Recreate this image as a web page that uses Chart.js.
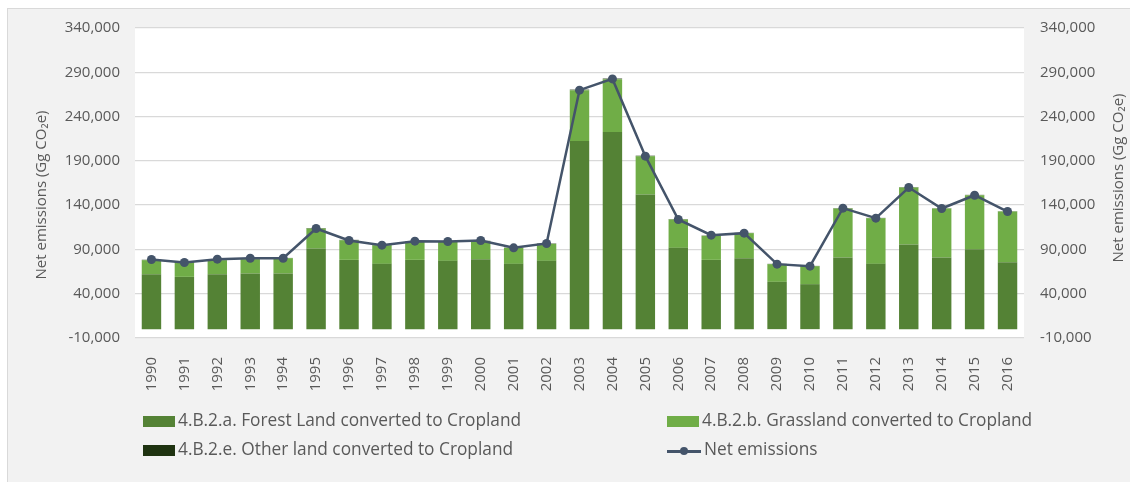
<!DOCTYPE html>
<html>
<head>
<meta charset="utf-8">
<script src="https://cdn.jsdelivr.net/npm/chart.js@4.4.1/dist/chart.umd.min.js"></script>
<style>
  body { margin: 0; background: #ffffff; }
  #wrap { position: absolute; left: 0; top: 0; width: 1130px; height: 482px; }
  #frame { position: absolute; left: 7px; top: 8px; right: 0; bottom: 0; background: #f2f2f2; border-left: 1px solid #d9d9d9; border-top: 1px solid #d9d9d9; }
  #packChart { position: absolute; left: 0; top: 0; }
  .legend-item { position: absolute; font-family: "Open Sans", sans-serif; font-size: 17.3px; color: #595959; white-space: nowrap; line-height: 20px; }
  .legend-box { display: inline-block; width: 32px; height: 11px; margin-right: 3px; vertical-align: -1px; }
  .legend-line { display: inline-block; position: relative; width: 34px; height: 11px; margin-right: 3px; vertical-align: -1px; }
</style>
</head>
<body>
<div id="wrap">
  <div id="frame"></div>
  <canvas id="packChart" width="1130" height="482"></canvas>
  <div id="legend"></div>
</div>
<script>
const years = ['1990','1991','1992','1993','1994','1995','1996','1997','1998','1999','2000','2001','2002','2003','2004','2005','2006','2007','2008','2009','2010','2011','2012','2013','2014','2015','2016'];
const forestLand = [62000, 59000, 62000, 62800, 62800, 91000, 78200, 73700, 78200, 77100, 79000, 73700, 77100, 212500, 222700, 152000, 91800, 78200, 80100, 53400, 50800, 80900, 73700, 95600, 80900, 90300, 75600];
const grassLand = [15900, 17000, 15900, 16200, 17300, 22600, 22200, 21100, 20300, 21400, 20300, 18100, 19200, 57300, 59500, 43300, 32000, 27100, 28300, 20000, 20300, 55300, 51600, 64300, 55300, 60900, 57200];
const otherLand = [400, 300, 400, 400, 300, 500, 400, 300, 400, 400, 400, 300, 400, 600, 700, 500, 400, 300, 300, 300, 300, 400, 300, 400, 300, 400, 300];
const netEmissions = [78600, 75300, 79000, 80100, 80100, 113600, 100100, 94800, 99300, 99000, 100100, 91800, 96700, 269800, 282500, 195300, 123800, 106100, 108400, 73400, 71100, 136600, 125300, 159900, 136200, 151200, 132800];
const axisMin = -10000;
const axisMax = 340000;
const axisStep = 50000;
const axisTitle = 'Net emissions (Gg CO\u2082e)';

const textColor = '#595959';
const font = '"Open Sans", sans-serif';

// white plot area + axis titles (right one reads bottom-to-top like the left)
const plotBg = {
    id: 'plotBg',
    beforeDraw(chart) {
        const a = chart.chartArea;
        const ctx = chart.ctx;
        ctx.save();
        ctx.fillStyle = '#ffffff';
        ctx.fillRect(a.left, a.top, a.right - a.left, a.bottom - a.top);
        ctx.restore();
    },
    afterDraw(chart) {
        const ctx = chart.ctx;
        ctx.save();
        ctx.fillStyle = textColor;
        ctx.font = '15px ' + font;
        ctx.textAlign = 'center';
        ctx.textBaseline = 'middle';
        [[42, 195], [1119, 178]].forEach(p => {
            ctx.save();
            ctx.translate(p[0], p[1]);
            ctx.rotate(-Math.PI / 2);
            ctx.fillText(axisTitle, 0, 0);
            ctx.restore();
        });
        ctx.restore();
    }
};

const yTicks = {
    stepSize: axisStep,
    color: textColor,
    font: { family: font, size: 15 },
    callback: v => v.toLocaleString('en-US')
};

const ctx = document.querySelector('#packChart').getContext('2d');
const packChart = new Chart(ctx, {
    type: 'bar',
    data: {
        labels: years,
        datasets: [
            { label: '4.B.2.a. Forest Land converted to Cropland', data: forestLand, backgroundColor: '#548235', order: 1 },
            { label: '4.B.2.b. Grassland converted to Cropland', data: grassLand, backgroundColor: '#70ad47', order: 1 },
            { label: '4.B.2.e. Other land converted to Cropland', data: otherLand, backgroundColor: '#1f3311', order: 1 },
            { type: 'line', label: 'Net emissions', data: netEmissions, yAxisID: 'y2', borderColor: '#44546a', backgroundColor: '#44546a',
              borderWidth: 2.5, pointRadius: 4.5, pointHoverRadius: 4.5, pointBackgroundColor: '#44546a', pointBorderWidth: 0, tension: 0, order: 0 }
        ]
    },
    options: {
        responsive: false,
        animation: false,
        layout: { padding: { top: 28, left: 0, right: 0, bottom: 0 } },
        datasets: { bar: { barPercentage: 0.59, categoryPercentage: 1 } },
        plugins: { legend: { display: false }, tooltip: { enabled: false } },
        scales: {
            x: {
                stacked: true,
                grid: { display: false },
                border: { display: false },
                ticks: { color: textColor, font: { family: font, size: 15 }, minRotation: 90, maxRotation: 90, padding: 11, autoSkip: false },
                afterFit: s => { s.height = 144; }
            },
            y: {
                stacked: true,
                min: axisMin,
                max: axisMax,
                grid: { color: '#d9d9d9', lineWidth: 1.3, drawTicks: false },
                border: { display: false },
                ticks: Object.assign({ padding: 15 }, yTicks),
                afterFit: s => { s.width = 135; }
            },
            y2: {
                position: 'right',
                min: axisMin,
                max: axisMax,
                grid: { display: false, drawTicks: false },
                border: { display: false },
                ticks: Object.assign({ padding: 16 }, yTicks),
                afterFit: s => { s.width = 106; }
            }
        }
    },
    plugins: [plotBg]
});

// two-column legend under the chart, built from the datasets
const legendPos = [[143, 410], [667, 410], [143, 439], [667, 439]];
const legendEl = document.querySelector('#legend');
packChart.data.datasets.forEach((ds, i) => {
    const item = document.createElement('div');
    item.className = 'legend-item';
    item.style.left = legendPos[i][0] + 'px';
    item.style.top = legendPos[i][1] + 'px';
    if (ds.type === 'line') {
        item.innerHTML = '<span class="legend-line"><span style="position:absolute;left:0;right:0;top:5px;height:2.5px;background:' + ds.borderColor + '"></span>' +
            '<span style="position:absolute;left:13px;top:2px;width:8px;height:8px;border-radius:50%;background:' + ds.borderColor + '"></span></span>' + ds.label;
    } else {
        item.innerHTML = '<span class="legend-box" style="background:' + ds.backgroundColor + '"></span>' + ds.label;
    }
    legendEl.appendChild(item);
});
</script>
</body>
</html>
